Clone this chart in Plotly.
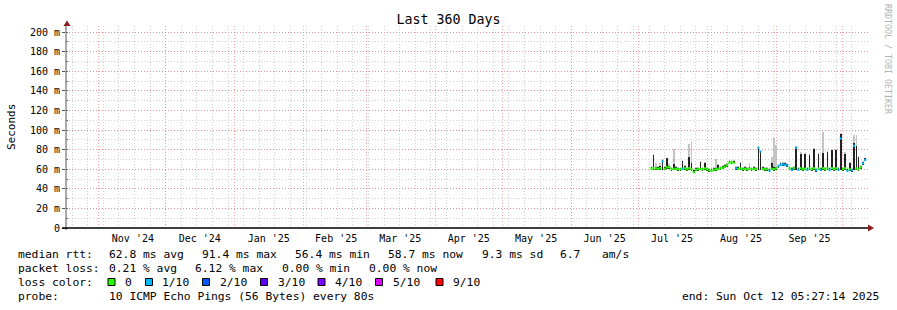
import pandas as pd
import plotly.graph_objects as go

# ---------------- data ----------------
first_day = "2025-07-07"
median_ms = [
    60.5, 61.0, 61.0, 60.5, 61.0, 68.0, 60.5, 62.0, 62.0, 60.0,
    60.5, 60.5, 60.0, 60.0, 60.5, 61.0, 60.0, 61.0, 60.0, 57.0,
    59.5, 60.0, 60.5, 60.0, 61.0, 60.0, 59.0, 58.5, 59.5, 60.0,
    60.5, 61.0, 61.5, 62.5, 64.0, 66.5, 67.0, 66.5, 61.0, 60.5,
    61.0, 60.0, 60.5, 60.0, 60.5, 60.0, 60.5, 60.0, 82.0, 78.0,
    60.5, 60.0, 60.0, 58.5, 60.5, 60.0, 61.0, 63.0, 64.5, 65.0,
    64.5, 64.0, 61.0, 59.5, 61.0, 82.0, 59.5, 61.0, 60.0, 60.5,
    59.5, 61.0, 60.0, 61.0, 59.0, 60.5, 59.5, 61.0, 60.0, 61.0,
    59.5, 61.0, 60.0, 61.0, 59.5, 91.4, 60.0, 61.0, 58.5, 60.0,
    59.0, 84.0, 61.0, 60.0, 62.0, 66.0, 69.5,
]
smoke_low_ms = [
    59.0, 59.5, 59.5, 59.0, 59.5, 59.0, 59.0, 60.5, 60.5, 58.5,
    59.0, 59.0, 58.5, 58.5, 59.0, 59.5, 58.5, 59.5, 58.5, 56.4,
    58.0, 58.5, 59.0, 58.5, 59.5, 58.5, 57.5, 57.0, 58.0, 58.5,
    59.0, 59.5, 60.0, 61.0, 62.5, 65.0, 65.5, 65.0, 59.5, 59.0,
    59.5, 58.5, 59.0, 58.5, 59.0, 58.5, 59.0, 58.5, 59.0, 59.0,
    59.0, 58.5, 58.5, 57.0, 59.0, 58.5, 59.5, 61.5, 63.0, 63.5,
    63.0, 62.5, 59.5, 58.0, 59.5, 59.0, 58.0, 59.5, 58.5, 59.0,
    58.0, 59.5, 58.5, 59.5, 57.5, 59.0, 58.0, 59.5, 58.5, 59.5,
    58.0, 59.5, 58.5, 59.5, 58.0, 59.0, 58.5, 59.5, 57.0, 58.5,
    57.5, 59.0, 59.5, 58.5, 60.5, 64.5, 68.0,
]
smoke_dark_ms = [
    62.0, 75.0, 62.5, 62.0, 63.0, 69.0, 62.0, 71.0, 63.5, 61.5,
    65.0, 62.0, 61.5, 61.5, 68.5, 63.0, 61.5, 73.0, 66.0, 59.0,
    61.0, 61.5, 67.5, 61.5, 66.0, 61.5, 60.5, 60.0, 61.0, 61.5,
    64.0, 62.5, 63.0, 64.0, 65.5, 68.0, 68.5, 68.0, 62.5, 62.0,
    66.0, 61.5, 62.0, 61.5, 62.0, 61.5, 62.0, 61.5, 83.0, 79.0,
    62.0, 61.5, 61.5, 60.0, 66.0, 62.0, 62.5, 64.5, 66.0, 66.5,
    66.0, 65.5, 62.5, 61.0, 62.5, 83.0, 61.0, 76.0, 61.5, 76.0,
    61.0, 74.5, 61.5, 80.5, 60.5, 75.5, 61.0, 77.0, 61.5, 78.0,
    61.0, 79.5, 61.5, 79.5, 61.0, 96.5, 61.5, 76.0, 60.0, 66.0,
    60.5, 86.5, 84.0, 73.0, 63.5, 67.5, 71.0,
]
smoke_light_ms = [
    63.0, 76.0, 66.0, 63.0, 66.0, 70.0, 63.0, 72.0, 65.0, 62.5,
    81.0, 63.0, 62.5, 62.5, 69.5, 64.0, 62.5, 86.0, 89.0, 60.0,
    62.0, 62.5, 68.5, 62.5, 67.0, 62.5, 61.5, 61.0, 62.0, 70.5,
    65.0, 63.5, 64.0, 65.0, 66.5, 69.0, 69.5, 69.0, 63.5, 63.0,
    67.0, 62.5, 63.0, 62.5, 66.0, 62.5, 63.0, 62.5, 84.0, 80.0,
    63.0, 62.5, 62.5, 61.0, 73.0, 91.6, 85.0, 65.5, 67.0, 67.5,
    67.0, 66.5, 63.5, 62.0, 63.5, 84.0, 62.0, 78.0, 62.5, 77.0,
    62.0, 75.5, 62.5, 82.0, 61.5, 76.5, 62.0, 98.0, 62.5, 79.0,
    62.0, 80.5, 62.5, 80.5, 62.0, 97.0, 62.5, 78.0, 61.0, 67.0,
    61.5, 95.0, 95.0, 74.0, 64.5, 68.5, 72.0,
]
loss_count = [
    0, 0, 0, 0, 0, 1, 0, 0, 0, 0,
    0, 0, 0, 0, 1, 0, 0, 0, 0, 0,
    0, 0, 0, 0, 0, 0, 0, 0, 0, 0,
    0, 0, 0, 0, 0, 0, 0, 0, 1, 0,
    0, 0, 0, 0, 0, 0, 0, 0, 1, 1,
    0, 0, 0, 1, 0, 0, 0, 1, 1, 1,
    1, 1, 0, 1, 0, 1, 1, 0, 0, 0,
    1, 0, 0, 0, 1, 0, 1, 0, 0, 0,
    1, 0, 0, 0, 1, 1, 0, 0, 1, 0,
    1, 1, 0, 0, 0, 1, 1,
]

x_start = "2024-10-17 05:27:14"
x_end = "2025-10-12 05:27:14"
month_starts = ["2024-11-01", "2024-12-01", "2025-01-01", "2025-02-01", "2025-03-01",
                "2025-04-01", "2025-05-01", "2025-06-01", "2025-07-01", "2025-08-01",
                "2025-09-01", "2025-10-01"]
month_label_at = ["2024-11-16 06:00", "2024-12-16 06:00", "2025-01-16 06:00", "2025-02-15 12:00",
                  "2025-03-16 06:00", "2025-04-16 00:00", "2025-05-16 06:00", "2025-06-16 00:00",
                  "2025-07-16 06:00", "2025-08-16 06:00", "2025-09-16 00:00"]
month_labels = ["Nov '24", "Dec '24", "Jan '25", "Feb '25", "Mar '25", "Apr '25",
                "May '25", "Jun '25", "Jul '25", "Aug '25", "Sep '25"]
y_ticks = [0, 20, 40, 60, 80, 100, 120, 140, 160, 180, 200]
y_labels = ["0", "20 m", "40 m", "60 m", "80 m", "100 m", "120 m", "140 m", "160 m", "180 m", "200 m"]

loss_palette = ["#26ff00", "#00b8ff", "#0059ff", "#5e00ff", "#7e00ff", "#dd00ff", "#ff0000"]
loss_names = ["0", "1/10", "2/10", "3/10", "4/10", "5/10", "9/10"]

row1 = ["median rtt:", "62.8 ms avg", "91.4 ms max", "56.4 ms min", "58.7 ms now", "9.3 ms sd", "6.7", "am/s"]
row2 = ["packet loss:", "0.21 % avg", "6.12 % max", "0.00 % min", "0.00 % now"]
row3_head = "loss color:"
row4 = ["probe:", "10 ICMP Echo Pings (56 Bytes) every 80s"]
end_text = "end: Sun Oct 12 05:27:14 2025"
title_text = "Last 360 Days"

# ---------------- layout helpers (pixels -> paper) ----------------
W, H = 897, 310
L, R, T, B = 66, 29, 26, 82
PW, PH = W - L - R, H - T - B


def pxx(x):
    return (x - L) / PW


def pxy(y):
    return (H - B - y) / PH


MONO = "DejaVu Sans Mono"

days = pd.date_range(first_day, periods=len(median_ms), freq="D")
half = pd.Timedelta(hours=12)

fig = go.Figure()

# smoke
fig.add_trace(go.Bar(
    x=days, base=smoke_low_ms,
    y=[t - b for t, b in zip(smoke_light_ms, smoke_low_ms)],
    width=0.75 * 86400000, marker=dict(color="#c4c4c4", line=dict(width=0)),
    hoverinfo="skip", showlegend=False))
fig.add_trace(go.Bar(
    x=days, base=smoke_low_ms,
    y=[t - b for t, b in zip(smoke_dark_ms, smoke_low_ms)],
    width=0.75 * 86400000, marker=dict(color="#222222", line=dict(width=0)),
    hoverinfo="skip", showlegend=False))

# median, coloured by loss
for lc in sorted(set(loss_count)):
    xs, ys = [], []
    for d, m, l in zip(days, median_ms, loss_count):
        if l == lc:
            xs += [d - half, d + half, None]
            ys += [m, m, None]
    fig.add_trace(go.Scatter(x=xs, y=ys, mode="lines",
                             line=dict(color=loss_palette[lc], width=2.2),
                             hoverinfo="skip", showlegend=False, connectgaps=False))

# label axis (overlaid)
fig.add_trace(go.Scatter(x=[x_start], y=[None], xaxis="x2", showlegend=False, hoverinfo="skip"))

week_lines = pd.date_range("2024-10-20", "2025-10-12", freq="7D")

MAJOR_GRID = "rgba(240,110,110,0.6)"
MINOR_GRID = "#cfcfcf"

fig.update_layout(
    width=W, height=H,
    margin=dict(l=L, r=R, t=T, b=B, pad=0),
    paper_bgcolor="white", plot_bgcolor="white",
    barmode="overlay", bargap=0,
    showlegend=False,
    font=dict(family=MONO, size=10, color="#000000"),
    title=dict(text=title_text, x=0.5, xref="container", xanchor="center",
               y=1 - 19 / H, yref="container", yanchor="middle",
               font=dict(family=MONO, size=13.3, color="#000000")),
    xaxis=dict(
        type="date", range=[x_start, x_end],
        tickmode="array", tickvals=month_starts, showticklabels=False, ticks="",
        showgrid=True, gridcolor=MAJOR_GRID, griddash="1px,2px", gridwidth=1,
        minor=dict(tickmode="array", tickvals=list(week_lines), showgrid=True,
                   gridcolor=MINOR_GRID, griddash="1px,2px", gridwidth=1, ticks=""),
        showline=False, zeroline=False, fixedrange=True,
    ),
    xaxis2=dict(
        type="date", range=[x_start, x_end], overlaying="x", anchor="y", side="bottom",
        tickmode="array", tickvals=month_label_at, ticktext=month_labels,
        showgrid=False, ticks="", showline=False, zeroline=False,
        tickfont=dict(family=MONO, size=10, color="#000000"),
        ticklabelstandoff=3,
    ),
    yaxis=dict(
        range=[0, 206.3], tickmode="array", tickvals=y_ticks, ticktext=y_labels,
        showgrid=True, gridcolor=MAJOR_GRID, griddash="1px,2px", gridwidth=1,
        minor=dict(dtick=10, showgrid=True, gridcolor=MINOR_GRID, griddash="1px,2px",
                   gridwidth=1, ticks="inside", ticklen=2, tickcolor="#777777"),
        ticks="outside", ticklen=3, tickcolor="#555555",
        tickfont=dict(family=MONO, size=10, color="#000000"),
        showline=False, zeroline=False, fixedrange=True,
    ),
)

shapes = []
# y axis line and arrow
shapes.append(dict(type="line", xref="paper", yref="paper", x0=0, x1=0,
                   y0=pxy(230), y1=pxy(24), line=dict(color="#555555", width=1)))
shapes.append(dict(type="path", xref="paper", yref="paper",
                   path=f"M {pxx(63.5)},{pxy(26)} L {pxx(70.5)},{pxy(26)} L {pxx(67)},{pxy(20.5)} Z",
                   fillcolor="#8a1c1c", line=dict(width=0)))
# x axis line and arrow
shapes.append(dict(type="line", xref="paper", yref="paper", x0=pxx(62), x1=pxx(869),
                   y0=pxy(228), y1=pxy(228), line=dict(color="#000000", width=1.5)))
shapes.append(dict(type="path", xref="paper", yref="paper",
                   path=f"M {pxx(868)},{pxy(224.5)} L {pxx(868)},{pxy(231.5)} L {pxx(874)},{pxy(228)} Z",
                   fillcolor="#8a1c1c", line=dict(width=0)))

ann = []


def text_at(x, y, s, size=11.3, anchor="left", color="#000000", angle=0):
    ann.append(dict(text=s, x=pxx(x), y=pxy(y), xref="paper", yref="paper",
                    xanchor=anchor, yanchor="middle", showarrow=False, textangle=angle,
                    font=dict(family=MONO, size=size, color=color)))


# y title and watermark
text_at(11, 127, "Seconds", size=11, anchor="center", angle=-90)
text_at(888, 59, "RRDTOOL / TOBI OETIKER", size=8.3, anchor="center", color="#b4b4b4", angle=90)

# legend rows
row1_x = [16, 107.3, 200, 293.3, 386, 480, 558.3, 600]
for x, s in zip(row1_x, row1):
    text_at(x, 254, s)
row2_x = [16, 107.3, 193.3, 280, 366.7]
for x, s in zip(row2_x, row2):
    text_at(x, 268, s)
text_at(16, 282, row3_head)
box_x = [108, 145.5, 202.5, 260.5, 318, 375.5, 436]
lab_x = [123, 160, 217.5, 275.5, 333.3, 391, 451]
for bx, lx, col, name in zip(box_x, lab_x, loss_palette, loss_names):
    shapes.append(dict(type="rect", xref="paper", yref="paper",
                       x0=pxx(bx), x1=pxx(bx + 7), y0=pxy(285.5), y1=pxy(278.5),
                       fillcolor=col, line=dict(color="#000000", width=1)))
    text_at(lx, 282, name)
text_at(16, 296, row4[0])
text_at(107.3, 296, row4[1])
text_at(880.5, 296, end_text, anchor="right")

fig.update_layout(shapes=shapes, annotations=ann)
fig.write_html("out.html", config={"displayModeBar": False, "staticPlot": True})
